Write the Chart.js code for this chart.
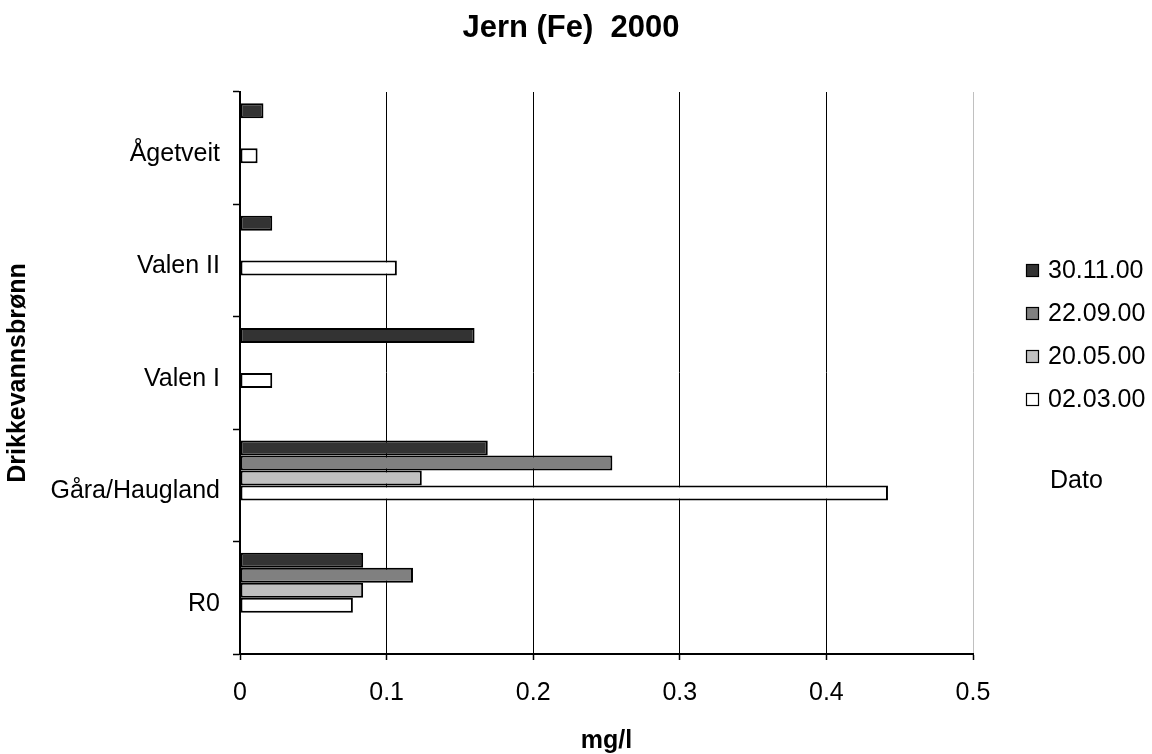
<!DOCTYPE html>
<html>
<head>
<meta charset="utf-8">
<title>Jern (Fe) 2000</title>
<script src="https://cdn.jsdelivr.net/npm/chart.js@4/dist/chart.umd.min.js"></script>
<style>
  html, body { margin: 0; padding: 0; background: #fff; }
  #wrap { width: 1152px; height: 754px; }
</style>
</head>
<body>
<div id="wrap"><canvas id="myChart" width="1152" height="754"></canvas></div>
<script>
// data (mg/l), top category first
const wells = ['Ågetveit', 'Valen II', 'Valen I', 'Gåra/Haugland', 'R0'];
const dates = ['30.11.00', '22.09.00', '20.05.00', '02.03.00'];
const fe301100 = [0.016, 0.022, 0.160, 0.169, 0.084];
const fe220900 = [null, null, null, 0.254, 0.118];
const fe200500 = [null, null, null, 0.124, 0.084];
const fe020300 = [0.012, 0.107, 0.022, 0.442, 0.077];
const xTicks = [0, 0.1, 0.2, 0.3, 0.4, 0.5];

const fills = ['#333333', '#808080', '#c0c0c0', '#ffffff'];
const FONT = '"Liberation Sans", Arial, sans-serif';

let seriesValues = [fe301100, fe220900, fe200500, fe020300];
let datasets = [];
for (let i = 0; i < dates.length; i++) {
    datasets.push({
        label: dates[i],
        data: seriesValues[i],
        backgroundColor: fills[i],
        borderColor: '#000',
        borderWidth: 2,
        borderSkipped: false
    });
}
// excel left two empty series slots below the real ones
for (let i = 0; i < 2; i++) {
    datasets.push({ label: '', data: wells.map(() => null), backgroundColor: '#fff' });
}

// title, legend and the "Dato" caption drawn by hand
const extras = {
    id: 'extras',
    afterDraw(chart) {
        let ctx = chart.ctx;
        ctx.save();
        ctx.fillStyle = '#000';
        ctx.textBaseline = 'middle';
        ctx.textAlign = 'center';
        ctx.font = 'bold 31px ' + FONT;
        ctx.fillText('Jern (Fe)  2000', 571, 28);

        ctx.textAlign = 'left';
        ctx.font = '25px ' + FONT;
        for (let i = 0; i < dates.length; i++) {
            let y = 270 + i * 43;
            ctx.fillStyle = fills[i];
            ctx.fillRect(1026, y - 6, 13, 13);
            ctx.strokeStyle = '#000';
            ctx.lineWidth = 1.2;
            ctx.strokeRect(1026.5, y - 5.5, 12, 12);
            ctx.fillStyle = '#000';
            ctx.fillText(dates[i], 1048, y + 1);
        }
        ctx.fillText('Dato', 1050, 481);
        ctx.restore();
    }
};

new Chart('myChart', {
    type: 'bar',
    data: { labels: wells, datasets: datasets },
    options: {
        indexAxis: 'y',
        responsive: false,
        animation: false,
        layout: { padding: { top: 92, right: 179, left: 0, bottom: 0 } },
        datasets: { bar: { categoryPercentage: 0.8, barPercentage: 1.0 } },
        plugins: {
            legend: { display: false },
            title: { display: false },
            tooltip: { enabled: false }
        },
        scales: {
            x: {
                min: 0,
                max: 0.5,
                afterFit: (s) => { s.height = 100; },
                afterBuildTicks: (s) => { s.ticks = xTicks.map(v => ({ value: v })); },
                ticks: {
                    color: '#000',
                    font: { family: FONT, size: 25 },
                    padding: 18,
                    maxRotation: 0,
                    callback: (v) => String(Math.round(v * 10) / 10)
                },
                grid: {
                    color: (c) => (c.tick && c.tick.value === 0.5) ? '#c0c0c0' : '#000',
                    lineWidth: 1,
                    tickColor: '#000',
                    tickLength: 6,
                    tickWidth: 1.5
                },
                border: { color: '#000', width: 2 },
                title: {
                    display: true,
                    text: 'mg/l',
                    color: '#000',
                    font: { family: FONT, size: 25, weight: 'bold', lineHeight: 1 },
                    padding: 0
                }
            },
            y: {
                afterFit: (s) => { s.width = 240; },
                ticks: {
                    color: '#000',
                    font: { family: FONT, size: 25 },
                    padding: 13,
                    labelOffset: 6
                },
                grid: {
                    drawOnChartArea: false,
                    drawTicks: true,
                    tickLength: 7,
                    tickColor: '#000',
                    tickWidth: 1.5
                },
                border: { color: '#000', width: 2 },
                title: {
                    display: true,
                    text: 'Drikkevannsbrønn',
                    color: '#000',
                    font: { family: FONT, size: 25, weight: 'bold', lineHeight: 1.2 },
                    padding: { top: 3, bottom: 0 }
                }
            }
        }
    },
    plugins: [extras]
});
</script>
</body>
</html>
